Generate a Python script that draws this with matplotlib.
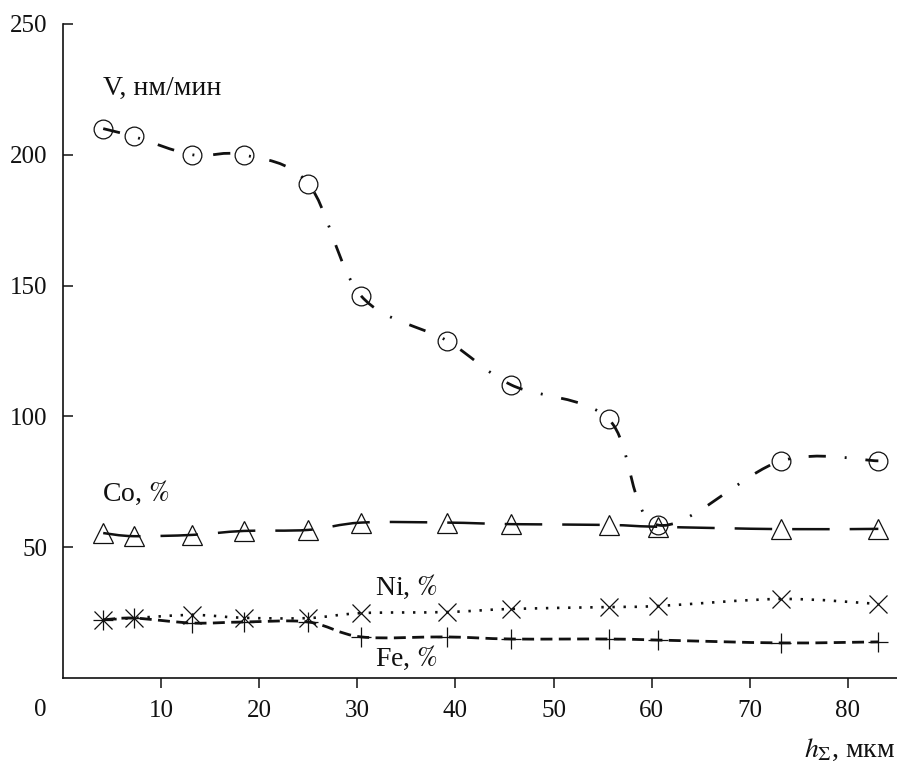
import numpy as np
import matplotlib
matplotlib.use("Agg")
import matplotlib.pyplot as plt
from matplotlib.path import Path
from matplotlib.patches import PathPatch

plt.rcParams['font.family'] = ['Liberation Serif', 'DejaVu Serif']
plt.rcParams['mathtext.fontset'] = 'stix'

# ---- data ----
h = [4.1, 7.2, 13.2, 18.4, 25.0, 30.4, 39.1, 45.7, 55.6, 60.6, 73.2, 83.1]
V = [210, 207, 200, 200, 189, 146, 129, 112, 99, 58.5, 83, 83]
Co = [55.4, 54.2, 54.7, 56.2, 56.6, 59.4, 59.4, 58.8, 58.5, 57.8, 56.9, 57.0]
Ni = [22.2, 22.9, 24.1, 23.0, 22.9, 24.8, 25.2, 26.4, 27.1, 27.5, 30.2, 28.3]
Fe = [22.2, 22.9, 21.0, 21.4, 21.4, 15.7, 15.7, 14.9, 14.9, 14.5, 13.4, 13.8]
xticks = [10, 20, 30, 40, 50, 60, 70, 80]
yticks = [50, 100, 150, 200, 250]


def smooth_path(x, y, t=1/6):
    x = np.asarray(x, float)
    y = np.asarray(y, float)
    pts = np.column_stack([x, y])
    n = len(pts)
    verts = [pts[0]]
    codes = [Path.MOVETO]
    for i in range(n - 1):
        p0 = pts[i - 1] if i > 0 else pts[i]
        p1 = pts[i]
        p2 = pts[i + 1]
        p3 = pts[i + 2] if i + 2 < n else pts[i + 1]
        c1 = p1 + (p2 - p0) * t
        c2 = p2 - (p3 - p1) * t
        verts += [c1, c2, p2]
        codes += [Path.CURVE4] * 3
    return Path(verts, codes)


INK = '#111111'
fig = plt.figure(figsize=(8.97, 7.64), dpi=100)
ax = fig.add_axes([0.0702, 0.1126, 0.9298, 0.856])
ax.set_xlim(0, 85)
ax.set_ylim(0, 250)

styles = {
    'V': (V, 'o', 2.0, (0, (6.2, 6.8, 0.7, 6.8))),
    'Co': (Co, '^', 1.8, (0, (15, 8))),
    'Ni': (Ni, 'x', 1.9, (0, (0.9, 3.3))),
    'Fe': (Fe, '+', 2.0, (0, (4.3, 2.3))),
}
msizes = {'V': 13.5, 'Co': 14, 'Ni': 13, 'Fe': 14}
for name, (vals, mk, lw, ls) in styles.items():
    p = PathPatch(smooth_path(h, vals), fill=False, edgecolor=INK,
                  linewidth=lw, linestyle=ls, capstyle='butt')
    ax.add_patch(p)
    ax.plot(h, vals, ls='none', marker=mk, markersize=msizes[name],
            markerfacecolor='none', markeredgecolor=INK,
            markeredgewidth=0.9)

for s in ['top', 'right']:
    ax.spines[s].set_visible(False)
for s in ['left', 'bottom']:
    ax.spines[s].set_linewidth(1.2)
    ax.spines[s].set_color(INK)

ax.set_xticks(xticks)
ax.set_yticks(yticks)
ax.tick_params(axis='y', direction='in', length=7, width=1.1, labelsize=18,
               pad=11, colors=INK)
ax.tick_params(axis='x', direction='out', length=7, width=1.1, labelsize=18,
               pad=9, colors=INK)

ax.annotate('0', xy=(0, 0), xycoords='data', xytext=(-16, -23),
            textcoords='offset points', ha='center', va='center',
            fontsize=18, color=INK)

fs = 20
ax.text(4.1, 225.5, 'V, нм/мин', fontsize=fs, ha='left', va='center',
        color=INK)
ax.text(4.0, 70.7, r'Co, $\mathit{\%}$', fontsize=fs, ha='left', va='center',
        color=INK)
ax.text(31.8, 34.8, r'Ni, $\mathit{\%}$', fontsize=fs, ha='left', va='center',
        color=INK)
ax.text(31.8, 7.6, r'Fe, $\mathit{\%}$', fontsize=fs, ha='left', va='center',
        color=INK)

fig.text(0.998, 1 - 750 / 764, r'$h_{\Sigma}$, мкм', fontsize=fs,
         ha='right', va='center', color=INK)

fig.savefig('out.png', dpi=100)
